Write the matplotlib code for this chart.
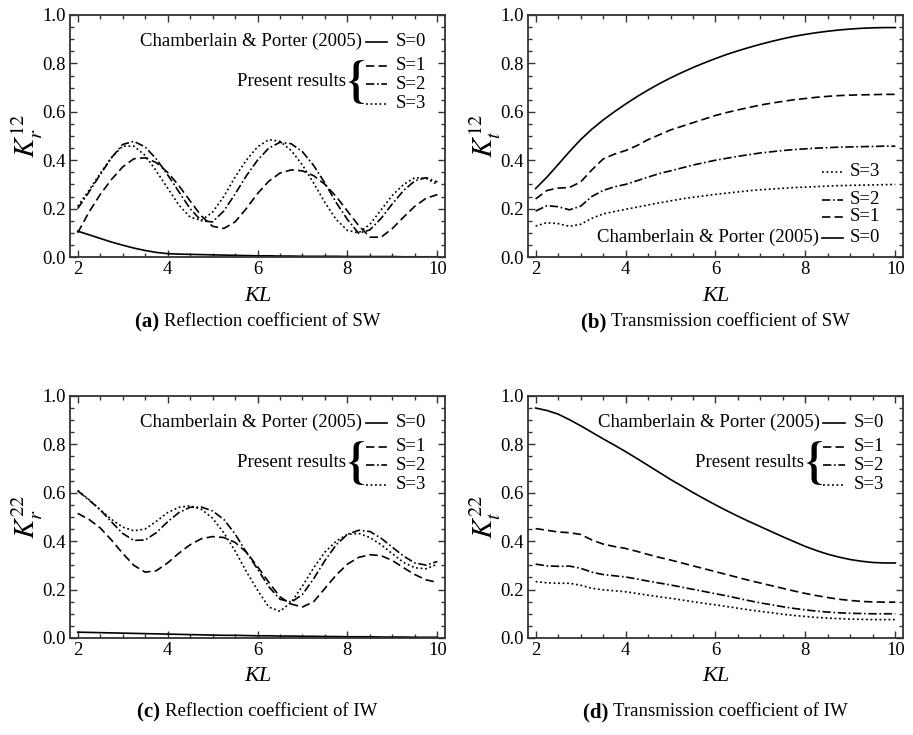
import numpy as np
import matplotlib
matplotlib.use("Agg")
import matplotlib.pyplot as plt
from matplotlib.ticker import MultipleLocator

plt.rcParams['font.family'] = ['Liberation Serif', 'DejaVu Serif']
plt.rcParams['mathtext.fontset'] = 'stix'

# wave number times plate length, shared by all four panels
KL = [2.00, 2.25, 2.50, 2.75, 3.00, 3.25, 3.50, 3.75, 4.00, 4.25, 4.50, 4.75,
      5.00, 5.25, 5.50, 5.75, 6.00, 6.25, 6.50, 6.75, 7.00, 7.25, 7.50, 7.75,
      8.00, 8.25, 8.50, 8.75, 9.00, 9.25, 9.50, 9.75, 10.00]

# (a) reflection coefficient of SW
kr12_s0 = [0.107, 0.092, 0.077, 0.062, 0.049, 0.037, 0.027, 0.019, 0.014, 0.012, 0.011, 0.010,
           0.009, 0.008, 0.007, 0.006, 0.005, 0.005, 0.004, 0.004, 0.003, 0.003, 0.003, 0.003,
           0.002, 0.002, 0.002, 0.002, 0.002, 0.001, 0.001, 0.001, 0.001]
kr12_s1 = [0.100, 0.185, 0.258, 0.320, 0.372, 0.406, 0.410, 0.390, 0.350, 0.295, 0.232, 0.170,
           0.127, 0.118, 0.145, 0.200, 0.262, 0.313, 0.347, 0.360, 0.356, 0.336, 0.300, 0.250,
           0.190, 0.130, 0.082, 0.082, 0.118, 0.165, 0.210, 0.243, 0.258]
kr12_s2 = [0.200, 0.268, 0.340, 0.410, 0.465, 0.478, 0.455, 0.405, 0.340, 0.270, 0.200, 0.150,
           0.145, 0.190, 0.260, 0.335, 0.400, 0.450, 0.474, 0.468, 0.435, 0.378, 0.305, 0.225,
           0.155, 0.098, 0.112, 0.160, 0.220, 0.275, 0.315, 0.328, 0.310]
kr12_s3 = [0.210, 0.275, 0.345, 0.410, 0.458, 0.458, 0.420, 0.355, 0.285, 0.215, 0.165, 0.152,
           0.185, 0.250, 0.330, 0.400, 0.455, 0.485, 0.478, 0.440, 0.380, 0.305, 0.225, 0.155,
           0.110, 0.100, 0.135, 0.195, 0.255, 0.300, 0.328, 0.325, 0.300]

# (b) transmission coefficient of SW
kt12_s0 = [0.283, 0.330, 0.382, 0.435, 0.485, 0.528, 0.566, 0.600, 0.632, 0.662, 0.690, 0.716,
           0.740, 0.762, 0.783, 0.802, 0.820, 0.837, 0.852, 0.866, 0.879, 0.891, 0.902, 0.912,
           0.920, 0.927, 0.933, 0.938, 0.942, 0.945, 0.947, 0.948, 0.948]
kt12_s1 = [0.240, 0.275, 0.285, 0.287, 0.310, 0.360, 0.405, 0.425, 0.440, 0.460, 0.485, 0.505,
           0.525, 0.540, 0.555, 0.570, 0.585, 0.597, 0.608, 0.618, 0.628, 0.636, 0.643, 0.650,
           0.655, 0.660, 0.664, 0.667, 0.669, 0.670, 0.671, 0.672, 0.672]
kt12_s2 = [0.190, 0.212, 0.208, 0.195, 0.210, 0.250, 0.275, 0.290, 0.300, 0.315, 0.330, 0.345,
           0.356, 0.368, 0.380, 0.390, 0.400, 0.408, 0.416, 0.423, 0.430, 0.435, 0.440, 0.444,
           0.447, 0.450, 0.452, 0.454, 0.455, 0.456, 0.457, 0.458, 0.458]
kt12_s3 = [0.128, 0.142, 0.138, 0.127, 0.135, 0.160, 0.178, 0.188, 0.197, 0.206, 0.215, 0.224,
           0.232, 0.240, 0.247, 0.253, 0.259, 0.264, 0.269, 0.274, 0.278, 0.281, 0.284, 0.287,
           0.289, 0.291, 0.293, 0.295, 0.296, 0.297, 0.298, 0.299, 0.300]

# (c) reflection coefficient of IW
kr22_s0 = [0.024, 0.023, 0.022, 0.021, 0.020, 0.019, 0.018, 0.017, 0.016, 0.015, 0.014, 0.013,
           0.012, 0.011, 0.011, 0.010, 0.009, 0.009, 0.008, 0.008, 0.007, 0.007, 0.006, 0.006,
           0.005, 0.005, 0.005, 0.004, 0.004, 0.004, 0.003, 0.003, 0.003]
kr22_s1 = [0.515, 0.490, 0.455, 0.405, 0.350, 0.300, 0.272, 0.278, 0.310, 0.350, 0.385, 0.410,
           0.419, 0.415, 0.395, 0.355, 0.295, 0.230, 0.170, 0.140, 0.128, 0.150, 0.205, 0.260,
           0.305, 0.333, 0.344, 0.340, 0.320, 0.290, 0.262, 0.240, 0.230]
kr22_s2 = [0.608, 0.570, 0.530, 0.480, 0.432, 0.403, 0.405, 0.435, 0.480, 0.518, 0.540, 0.541,
           0.525, 0.490, 0.430, 0.355, 0.285, 0.212, 0.160, 0.148, 0.180, 0.245, 0.320, 0.385,
           0.428, 0.445, 0.440, 0.412, 0.375, 0.338, 0.310, 0.301, 0.316]
kr22_s3 = [0.610, 0.572, 0.530, 0.490, 0.458, 0.443, 0.450, 0.482, 0.518, 0.540, 0.546, 0.532,
           0.495, 0.435, 0.360, 0.275, 0.198, 0.128, 0.110, 0.148, 0.215, 0.290, 0.355, 0.400,
           0.428, 0.432, 0.415, 0.385, 0.348, 0.312, 0.290, 0.286, 0.305]

# (d) transmission coefficient of IW
kt22_s0 = [0.950, 0.940, 0.925, 0.902, 0.877, 0.850, 0.823, 0.797, 0.770, 0.742, 0.713, 0.684,
           0.655, 0.628, 0.601, 0.575, 0.550, 0.526, 0.503, 0.481, 0.460, 0.439, 0.418, 0.398,
           0.378, 0.361, 0.346, 0.334, 0.324, 0.317, 0.312, 0.310, 0.310]
kt22_s1 = [0.452, 0.445, 0.438, 0.435, 0.428, 0.405, 0.388, 0.378, 0.370, 0.358, 0.345, 0.333,
           0.322, 0.310, 0.298, 0.286, 0.274, 0.262, 0.250, 0.238, 0.227, 0.216, 0.205, 0.194,
           0.184, 0.175, 0.167, 0.160, 0.155, 0.151, 0.149, 0.148, 0.148]
kt22_s2 = [0.305, 0.298, 0.296, 0.297, 0.288, 0.272, 0.262, 0.257, 0.252, 0.244, 0.235, 0.227,
           0.219, 0.210, 0.201, 0.192, 0.183, 0.174, 0.164, 0.154, 0.145, 0.137, 0.129, 0.122,
           0.116, 0.111, 0.107, 0.104, 0.102, 0.101, 0.100, 0.100, 0.100]
kt22_s3 = [0.233, 0.228, 0.226, 0.226, 0.218, 0.205, 0.199, 0.195, 0.191, 0.184, 0.177, 0.170,
           0.164, 0.157, 0.150, 0.143, 0.137, 0.130, 0.123, 0.116, 0.110, 0.104, 0.098, 0.093,
           0.089, 0.085, 0.082, 0.080, 0.078, 0.077, 0.076, 0.076, 0.076]

series_labels = ["S=0", "S=1", "S=2", "S=3"]
styles = ['-', (0, (5, 2.5)), (0, (5, 1.6, 1, 1.6)), (0, (1.1, 1.6))]
ylabels = [r"$K_r^{12}$", r"$K_t^{12}$", r"$K_r^{22}$", r"$K_t^{22}$"]
captions = ["Reflection coefficient of SW", "Transmission coefficient of SW",
            "Reflection coefficient of IW", "Transmission coefficient of IW"]
letters = ["(a)", "(b)", "(c)", "(d)"]
panels = [
    [kr12_s0, kr12_s1, kr12_s2, kr12_s3],
    [kt12_s0, kt12_s1, kt12_s2, kt12_s3],
    [kr22_s0, kr22_s1, kr22_s2, kr22_s3],
    [kt22_s0, kt22_s1, kt22_s2, kt22_s3],
]
frame = '#333333'
FS = 13.5


def key_top(ax):
    # Chamberlain & Porter row, then braced "Present results" group
    rows = [0.89, 0.79, 0.713, 0.633]
    for i, y in enumerate(rows):
        ax.plot([0.788, 0.845], [y, y], transform=ax.transAxes, color='k',
                lw=1.2, ls=styles[i], clip_on=False)
        ax.text(0.868, y, series_labels[i], transform=ax.transAxes,
                ha='left', va='center', fontsize=FS)
    ax.text(0.778, rows[0], "Chamberlain & Porter (2005)", transform=ax.transAxes,
            ha='right', va='center', fontsize=FS)
    ax.text(0.765, 0.72, "{", transform=ax.transAxes, ha='center', va='center',
            fontsize=36, family='STIXGeneral', weight='bold')
    ax.text(0.736, 0.727, "Present results", transform=ax.transAxes,
            ha='right', va='center', fontsize=FS)


def key_bottom(ax):
    rows = [0.08, 0.166, 0.237, 0.352]
    for i, y in enumerate(rows):
        ax.plot([0.783, 0.84], [y, y], transform=ax.transAxes, color='k',
                lw=1.2, ls=styles[i], clip_on=False)
        ax.text(0.858, y, series_labels[i], transform=ax.transAxes,
                ha='left', va='center', fontsize=FS)
    ax.text(0.776, rows[0], "Chamberlain & Porter (2005)", transform=ax.transAxes,
            ha='right', va='center', fontsize=FS)


fig = plt.figure(figsize=(9.13, 7.35), dpi=100)
lefts = [0.0767, 0.5783, 0.0767, 0.5783]
bottoms = [0.6503, 0.6503, 0.132, 0.132]

for k in range(4):
    ax = fig.add_axes([lefts[k], bottoms[k], 0.4107, 0.3293])
    for i, vals in enumerate(panels[k]):
        ax.plot(KL, vals, color='k', lw=1.2, ls=styles[i])
    ax.set_xlim(1.83, 10.17)
    ax.set_ylim(0, 1.0)
    ax.xaxis.set_major_locator(MultipleLocator(2))
    ax.xaxis.set_minor_locator(MultipleLocator(0.5))
    ax.yaxis.set_major_locator(MultipleLocator(0.2))
    ax.yaxis.set_minor_locator(MultipleLocator(0.05))
    ax.yaxis.set_major_formatter(matplotlib.ticker.FormatStrFormatter('%.1f'))
    ax.tick_params(which='both', direction='in', top=True, right=True,
                   color=frame, labelsize=FS, width=1.0)
    ax.tick_params(which='major', length=5, pad=3)
    ax.tick_params(which='minor', length=3)
    for sp in ax.spines.values():
        sp.set_color(frame)
        sp.set_linewidth(1.3)
    ax.set_ylabel(ylabels[k], fontsize=21, labelpad=-2)
    ax.set_xlabel("KL", fontsize=16, style='italic', labelpad=6)
    if k == 1:
        key_bottom(ax)
    else:
        key_top(ax)

    # caption under each panel
    cx = lefts[k] + 0.4107 / 2
    cy = 1 - (322 if k < 2 else 712) / 735
    t = fig.text(cx, cy, letters[k] + " ", fontsize=FS + 1.5, weight='bold',
                 ha='right', va='center')
    fig.canvas.draw()
    bb = t.get_window_extent()
    cap = fig.text(0, cy, captions[k], fontsize=FS, ha='left', va='center')
    cb = cap.get_window_extent()
    total = bb.width + cb.width
    x0 = cx * fig.bbox.width - total / 2
    t.set_ha('left')
    t.set_x(x0 / fig.bbox.width)
    cap.set_x((x0 + bb.width) / fig.bbox.width)

fig.savefig("out.png", dpi=100)
